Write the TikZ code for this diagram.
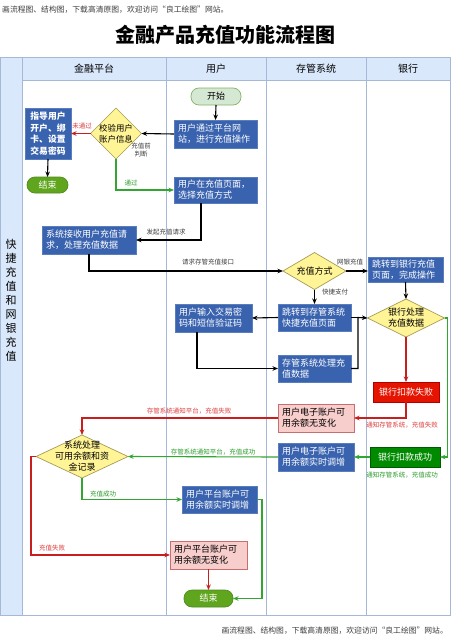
\documentclass[tikz,border=0pt]{standalone}
\usepackage{fontspec}
\setmainfont{Noto Sans CJK SC}
\usetikzlibrary{arrows.meta,shapes.geometric,calc}
\definecolor{laneLine}{RGB}{166,184,216}
\definecolor{headF}{RGB}{218,232,252}
\definecolor{boxF}{RGB}{58,99,175}
\definecolor{boxB}{RGB}{90,125,190}
\definecolor{diaF}{RGB}{255,244,150}
\definecolor{diaB}{RGB}{165,155,85}
\definecolor{startF}{RGB}{213,232,212}
\definecolor{startB}{RGB}{130,179,102}
\definecolor{endF}{RGB}{96,165,30}
\definecolor{endB}{RGB}{80,140,30}
\definecolor{failF}{RGB}{229,20,0}
\definecolor{failB}{RGB}{178,0,0}
\definecolor{okF}{RGB}{0,138,0}
\definecolor{okB}{RGB}{0,90,0}
\definecolor{pinkF}{RGB}{248,206,204}
\definecolor{pinkB}{RGB}{200,110,110}
\definecolor{redL}{RGB}{200,30,30}
\definecolor{greenL}{RGB}{50,165,50}
\definecolor{redT}{RGB}{220,60,60}
\definecolor{greenT}{RGB}{40,155,40}
\definecolor{grayT}{RGB}{60,60,60}
\begin{document}
\begin{tikzpicture}[x=1pt,y=-1pt,
  base/.style={font=\fontsize{9}{11}\selectfont, inner sep=0pt, outer sep=0pt},
  bbox/.style={base, draw=boxB, fill=boxF, text=white, line width=0.7pt, inner xsep=4pt, align=left},
  pbox/.style={base, draw=pinkB, fill=pinkF, text=black, line width=0.7pt, inner xsep=4pt, align=left},
  rbox/.style={base, draw=failB, fill=failF, text=white, line width=0.7pt, inner xsep=4pt, align=center},
  gbox/.style={base, draw=okB, fill=okF, text=white, line width=0.7pt, inner xsep=4pt, align=center},
  dia/.style={diamond, draw=diaB, fill=diaF, line width=0.7pt, inner sep=0pt, outer sep=0pt},
  dtext/.style={base, font=\fontsize{9}{11}\selectfont, align=center, text=black},
  pill/.style={base, rounded corners=8pt, line width=0.7pt},
  arr/.style={-{Stealth[length=5.5pt,width=4.5pt]}, line width=1.1pt},
  plain/.style={line width=1.1pt},
  lbl/.style={font=\fontsize{6.5}{8}\selectfont, inner sep=0.5pt, text=grayT, align=center},
  lane/.style={draw=laneLine, line width=0.9pt}
]
\useasboundingbox (0,0) rectangle (452,642);

% watermarks and title
\node[font=\fontsize{7.8}{9}\selectfont, text=grayT, anchor=west, inner sep=0pt] (wm1) at (2,10) {画流程图、结构图，下载高清原图，欢迎访问“良工绘图”网站。};
\node[font=\fontsize{7.8}{9}\selectfont, text=grayT, anchor=east, inner sep=0pt] (wm2) at (448,631) {画流程图、结构图，下载高清原图，欢迎访问“良工绘图”网站。};
\node[font=\fontsize{20}{24}\selectfont\bfseries, inner sep=0pt] (title) at (225,35) {金融产品充值功能流程图};

% swimlanes
\fill[headF] (0,57) rectangle (22,615);
\fill[headF] (22,57) rectangle (450,80);
\draw[lane] (0,57) rectangle (450,615);
\draw[lane] (22,80) -- (450,80);
\foreach \xx in {22,166,266,366} { \draw[lane] (\xx,57) -- (\xx,615); }
\node[font=\fontsize{10}{12}\selectfont, inner sep=0pt] (h1) at (94,68.5) {金融平台};
\node[font=\fontsize{10}{12}\selectfont, inner sep=0pt] (h2) at (216,68.5) {用户};
\node[font=\fontsize{10}{12}\selectfont, inner sep=0pt] (h3) at (316,68.5) {存管系统};
\node[font=\fontsize{10}{12}\selectfont, inner sep=0pt] (h4) at (408,68.5) {银行};
\node[font=\fontsize{11}{14}\selectfont, inner sep=0pt, align=center] (side) at (11,300) {快\\捷\\充\\值\\和\\网\\银\\充\\值};

% nodes
\node[pill, fill=startF, draw=startB, minimum width=50pt, minimum height=17pt] (start) at (216,96.5) {开始};
\node[bbox, text width=75pt, minimum height=28pt] (b1) at (215.5,134) {用户通过平台网\\站，进行充值操作};
\node[dia, minimum width=51pt, minimum height=51pt] (d1) at (116,133.5) {};
\node[dtext, font=\fontsize{8.4}{11}\selectfont] (d1t) at (d1.center) {校验用户\\账户信息};
\node[bbox, text width=38pt, minimum height=51pt, align=center, font=\fontsize{8.8}{11.5}\selectfont\bfseries] (b2) at (48,133.5) {指导用户\\开户、绑\\卡、设置\\交易密码};
\node[pill, fill=endF, draw=endB, text=white, minimum width=41pt, minimum height=16pt] (e1) at (47.5,185) {结束};
\node[bbox, text width=75pt, minimum height=26pt] (b3) at (215.5,190) {用户在充值页面，\\选择充值方式};
\node[bbox, text width=86pt, minimum height=28pt] (b4) at (89,240) {系统接收用户充值请\\求，处理充值数据};
\node[dia, minimum width=63pt, minimum height=37pt] (d2) at (314.5,271) {};
\node[dtext] (d2t) at (d2.center) {充值方式};
\node[bbox, text width=67pt, minimum height=25pt] (b5) at (405.5,269.5) {跳转到银行充值\\页面，完成操作};
\node[bbox, text width=65pt, minimum height=27pt] (b6) at (314.5,317.5) {跳转到存管系统\\快捷充值页面};
\node[bbox, text width=69pt, minimum height=28pt] (b7) at (213.5,318) {用户输入交易密\\码和短信验证码};
\node[bbox, text width=65pt, minimum height=27pt] (b8) at (314.5,368.5) {存管系统处理充\\值数据};
\node[dia, minimum width=77pt, minimum height=38pt] (d3) at (406,318) {};
\node[dtext] (d3t) at (d3.center) {银行处理\\充值数据};
\node[rbox, text width=58pt, minimum height=20pt] (r1) at (406,392) {银行扣款失败};
\node[gbox, text width=62pt, minimum height=20pt] (g1) at (405,457) {银行扣款成功};
\node[pbox, text width=68pt, minimum height=28pt] (p1) at (316,418) {用户电子账户可\\用余额无变化};
\node[bbox, text width=68pt, minimum height=28pt] (b9) at (316,457) {用户电子账户可\\用余额实时调增};
\node[dia, minimum width=92pt, minimum height=43pt] (d4) at (82,456.5) {};
\node[dtext] (d4t) at (d4.center) {系统处理\\可用余额和资\\金记录};
\node[bbox, text width=67pt, minimum height=27pt] (b10) at (219.5,499.5) {用户平台账户可\\用余额实时调增};
\node[pbox, text width=69pt, minimum height=28pt] (p2) at (208.5,555) {用户平台账户可\\用余额无变化};
\node[pill, fill=endF, draw=endB, text=white, minimum width=49pt, minimum height=17pt] (e2) at (208.5,598.5) {结束};

% connectors
\draw[arr] (start.south) -- (b1.north);
\draw[arr] (b1.west) -- (d1.east);
\draw[arr, redL] (d1.west) -- (b2.east);
\node[lbl, text=redT] (l1) at (82,126) {未通过};
\node[lbl] (l2) at (141,150) {充值前\\判断};
\draw[arr] (b2.south) -- (e1.north);
\draw[arr, greenL] (d1.south) |- (b3.west);
\node[lbl, text=greenT] (l3) at (131,183) {通过};
\draw[arr] ([xshift=-14.5pt]b3.south) |- (b4.east);
\node[lbl] (l4) at (166,232) {发起充值请求};
\draw[arr] (b4.south) |- (d2.west);
\node[lbl] (l5) at (208,262) {请求存管充值接口};
\draw[arr] (d2.east) -- (d2.east -| b5.west);
\node[lbl] (l6) at (350,262) {网银充值};
\draw[arr] (b5.south) -- (d3.north);
\draw[arr] (d2.south) -- (b6.north);
\node[lbl] (l7) at (335,292) {快捷支付};
\draw[arr] (b6.west) -- (b7.east);
\draw[arr] ([xshift=-16.5pt]b7.south) |- (b8.west);
\coordinate (jn) at (358,317.5);
\draw[arr] (b8.east) -| (jn) -- (d3.west);
\draw[plain] (b6.east) -- (jn);
\draw[arr, redL] (d3.south) -- (r1.north);
\draw[arr, greenL] (d3.east) -- ++(3,0) |- (g1.east);
\draw[arr, redL] (r1.south) |- (p1.east);
\node[lbl, text=redT] (l8) at (402,425) {通知存管系统，充值失败};
\draw[arr, greenL] (g1.west) -- (b9.east);
\node[lbl, text=greenT] (l9) at (402,475) {通知存管系统，充值成功};
\draw[arr, redL] (p1.west) -| (d4.north);
\node[lbl, text=redT] (l10) at (189,411) {存管系统通知平台，充值失败};
\draw[arr, greenL] (b9.west) -- (d4.east);
\node[lbl, text=greenT] (l11) at (213,452) {存管系统通知平台，充值成功};
\draw[arr, greenL] (d4.south) |- (b10.west);
\node[lbl, text=greenT] (l12) at (103,494) {充值成功};
\draw[arr, redL] (d4.west) -- ++(-5,0) |- (p2.west);
\node[lbl, text=redT] (l13) at (52,548) {充值失败};
\draw[arr, redL] (p2.south) -- (e2.north);
\draw[arr, greenL] (b10.east) -- ++(5,0) |- (e2.east);
\end{tikzpicture}
\end{document}
